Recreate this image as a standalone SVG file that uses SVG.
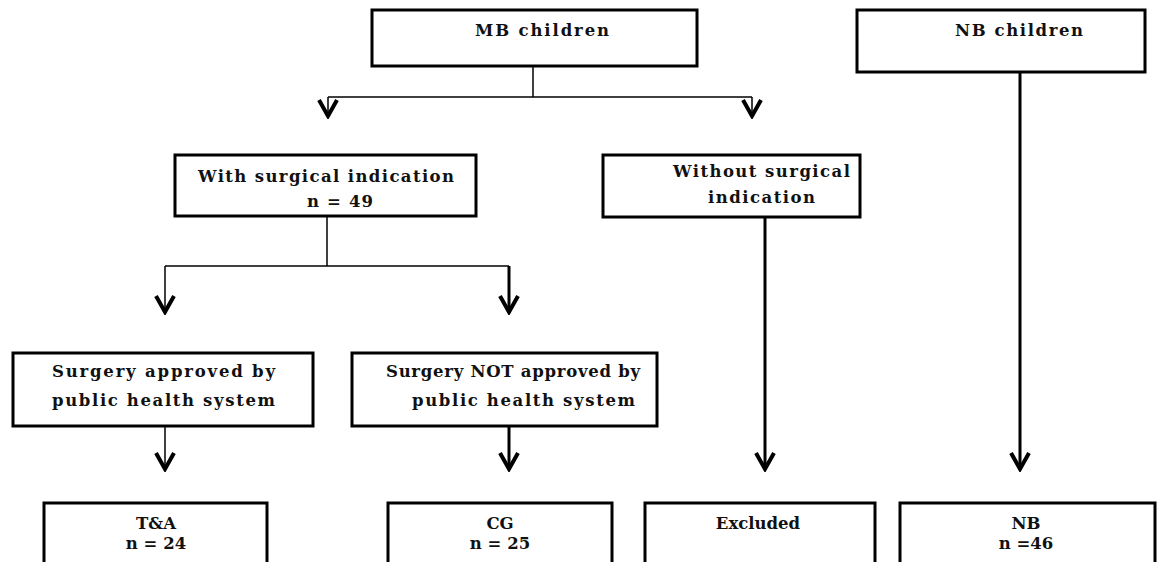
<svg xmlns="http://www.w3.org/2000/svg" width="1175" height="562" viewBox="0 0 1175 562">
<style>
.box{fill:#fff;stroke:#000;stroke-width:3}
.t{font-family:"DejaVu Serif","Liberation Serif",serif;font-weight:bold;font-size:16.5px;fill:#111}
.thin{stroke:#000;stroke-width:1.5;fill:none}
.thick{stroke:#000;stroke-width:3;fill:none}
</style>
<defs>
<marker id="v" markerUnits="userSpaceOnUse" viewBox="-12 -20 24 22" refX="0" refY="0" markerWidth="24" markerHeight="22" orient="0">
<path d="M-9,-17 L0,-1 L9,-17" fill="none" stroke="#000" stroke-width="4" stroke-linejoin="miter"/>
</marker>
</defs>
<rect width="1175" height="562" fill="#fff"/>
<g id="connectors">
<line class="thin" x1="533" y1="66" x2="533" y2="97"/>
<line class="thin" x1="328" y1="97" x2="752" y2="97"/>
<line class="thin" x1="328" y1="97" x2="328" y2="117" marker-end="url(#v)"/>
<line class="thin" x1="752" y1="97" x2="752" y2="117" marker-end="url(#v)"/>
<line class="thin" x1="327" y1="216" x2="327" y2="266"/>
<line class="thin" x1="165" y1="266" x2="509" y2="266"/>
<line class="thin" x1="165" y1="266" x2="165" y2="313" marker-end="url(#v)"/>
<line class="thick" x1="509" y1="266" x2="509" y2="313" marker-end="url(#v)"/>
<line class="thin" x1="165" y1="414" x2="165" y2="470" marker-end="url(#v)"/>
<line class="thick" x1="509" y1="414" x2="509" y2="470" marker-end="url(#v)"/>
<line class="thick" x1="765" y1="217" x2="765" y2="470" marker-end="url(#v)"/>
<line class="thick" x1="1020" y1="72" x2="1020" y2="470" marker-end="url(#v)"/>
</g>
<g id="mb">
<rect class="box" x="372" y="10" width="325" height="56"/>
<text class="t" x="475" y="36" textLength="134" lengthAdjust="spacing">MB children</text>
</g>
<g id="nb-children">
<rect class="box" x="857" y="10" width="288" height="62"/>
<text class="t" x="955" y="36" textLength="128" lengthAdjust="spacing">NB children</text>
</g>
<g id="with">
<rect class="box" x="175" y="155" width="301" height="61"/>
<text class="t" x="198" y="182" textLength="256" lengthAdjust="spacing">With surgical indication</text>
<text class="t" x="307" y="207" textLength="66" lengthAdjust="spacing">n = 49</text>
</g>
<g id="without">
<rect class="box" x="603" y="155" width="257" height="62"/>
<text class="t" x="673" y="177" textLength="177" lengthAdjust="spacing">Without surgical</text>
<text class="t" x="708" y="203" textLength="107" lengthAdjust="spacing">indication</text>
</g>
<g id="approved">
<rect class="box" x="13" y="353" width="300" height="73"/>
<text class="t" x="52" y="377" textLength="223" lengthAdjust="spacing">Surgery approved by</text>
<text class="t" x="52" y="406" textLength="223" lengthAdjust="spacing">public health system</text>
</g>
<g id="not-approved">
<rect class="box" x="352" y="353" width="305" height="73"/>
<text class="t" x="386" y="377" textLength="254" lengthAdjust="spacing">Surgery NOT approved by</text>
<text class="t" x="412" y="406" textLength="223" lengthAdjust="spacing">public health system</text>
</g>
<g id="ta">
<rect class="box" x="44" y="503" width="223" height="80"/>
<text class="t" x="156" y="529" text-anchor="middle">T&amp;A</text>
<text class="t" x="156" y="549" text-anchor="middle">n = 24</text>
</g>
<g id="cg">
<rect class="box" x="388" y="503" width="224" height="80"/>
<text class="t" x="500" y="529" text-anchor="middle">CG</text>
<text class="t" x="500" y="549" text-anchor="middle">n = 25</text>
</g>
<g id="excluded">
<rect class="box" x="645" y="503" width="230" height="80"/>
<text class="t" x="758" y="529" text-anchor="middle">Excluded</text>
</g>
<g id="nb">
<rect class="box" x="900" y="503" width="255" height="80"/>
<text class="t" x="1026" y="529" text-anchor="middle">NB</text>
<text class="t" x="1026" y="549" text-anchor="middle">n =46</text>
</g>
</svg>
